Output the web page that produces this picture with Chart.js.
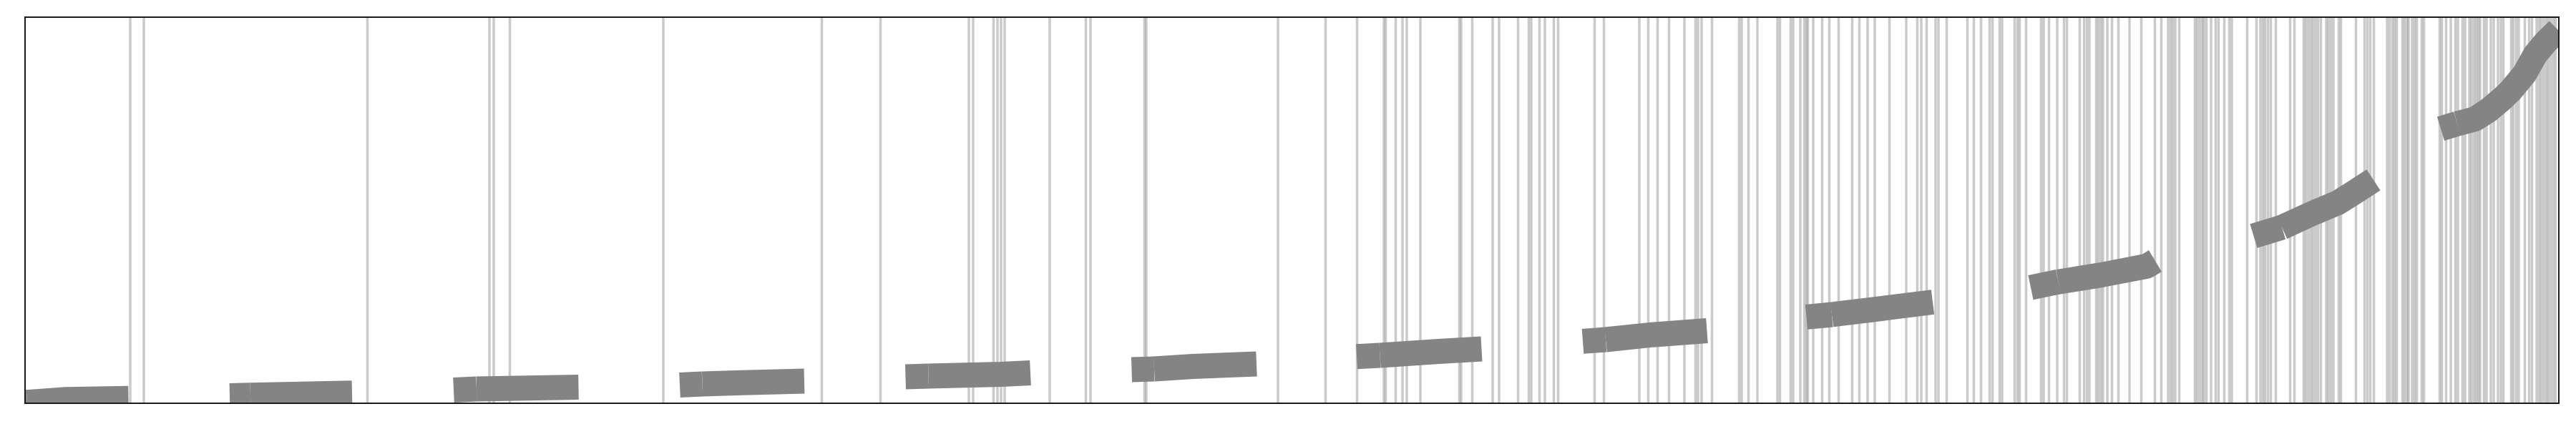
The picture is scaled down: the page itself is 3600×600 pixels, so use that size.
<!DOCTYPE html>
<html><head><meta charset="utf-8">
<script src="https://cdn.jsdelivr.net/npm/chart.js@4.4.0/dist/chart.umd.min.js"></script>
<style>html,body{margin:0;padding:0;background:#fff;} canvas{display:block;}</style>
</head><body>
<canvas id="c" width="3600" height="600"></canvas>
<script>
// Axis limits (arbitrary units)
const X_MIN = 0, X_MAX = 3541;
const Y_MIN = 0, Y_MAX = 540;

// Event times (vertical rug lines)
const eventTimes = [
  147, 166, 478.5, 649, 655, 677.5, 892, 1113.5, 1195.5, 1319, 1325, 1353.5, 1359, 1364, 1369,
  1432, 1482.5, 1489, 1564.5, 1567, 1751,
  1817.5, 1861.5, 1899, 1901.5, 1915.5, 1925, 1931, 1950, 2004.5, 2007, 2022.5,
  2051, 2060, 2086.5, 2101.5, 2105, 2116.5, 2124, 2136.5, 2142.5, 2193.5, 2206.5, 2256, 2268.5,
  2281.5, 2297.5, 2319, 2334.5, 2338, 2343,
  2357.5, 2395.5, 2399, 2408.5, 2421, 2449, 2452.5, 2467.5, 2471, 2481, 2486.5, 2489.5, 2491.5,
  2499, 2511.5, 2521.5, 2534.5, 2553.5, 2563.5, 2575, 2585, 2605.5, 2629, 2644.5,
  2650, 2657.5, 2670, 2674, 2685.5, 2714.5, 2723.5, 2733.5, 2745.5, 2749.5, 2759.5, 2763,
  2780.5, 2784.5, 2787.5, 2796.5, 2817.5, 2821, 2828.5, 2840, 2849.5, 2853.5, 2871.5, 2877.5,
  2881.5, 2885, 2894.5, 2897.5, 2901, 2904, 2910, 2916.5, 2925.5, 2941,
  2957.5, 2976.5, 2985.5, 2995, 2998.5, 3001.5, 3005, 3010.5, 3032.5, 3035.5, 3039, 3042.5,
  3045, 3048.5, 3055, 3061.5, 3065.5, 3073.5, 3080.5, 3084, 3105.5, 3118.5, 3124, 3127.5,
  3130.5, 3134.5, 3138.5, 3145.5, 3165.5, 3171.5, 3184.5, 3187.5, 3191, 3194.5, 3197.5, 3201,
  3204.5, 3208.5, 3216, 3219, 3222.5, 3226, 3233.5, 3236.5,
  3257.5, 3269.5, 3273.5, 3277.5, 3282.5, 3301, 3304.5, 3308.5, 3311.5, 3314.5, 3322.5, 3325.5,
  3329, 3331, 3336, 3339.5, 3342.5, 3349.5, 3352.5, 3374.5, 3377.5, 3383.5, 3390, 3396.5, 3400,
  3406.5, 3410, 3416, 3419, 3422.5, 3425.5, 3428.5, 3431, 3436.5, 3440, 3446, 3450, 3456, 3460,
  3463.5, 3474.5, 3477.5, 3481.5, 3485, 3493.5, 3499.5, 3503.5, 3510, 3513.5, 3516.5, 3520,
  3523.5, 3526.5, 3530, 3533.5, 3536.5
];

// Trend groups: first two points = lead piece, the rest continue from point 2
const g01x = [-29, 3, 57, 144.5],            g01y = [0, 1.3, 5.2, 6.7];
const g02x = [286, 315, 457],                g02y = [10.5, 11.2, 14.2];
const g03x = [599, 631, 773.5],              g03y = [18.5, 20, 22.5];
const g04x = [915, 946.5, 993.5, 1089],      g04y = [25.5, 27, 28.5, 31];
const g05x = [1230.5, 1262.5, 1364, 1405],   g05y = [37, 38, 40.4, 42.4];
const g06x = [1546.5, 1578, 1632, 1721],     g06y = [47, 48, 51.5, 55];
const g07x = [1861, 1893.5, 1975.5, 2035.5], g07y = [65.3, 67, 72.5, 76];
const g08x = [2177, 2209, 2274, 2350.5],     g08y = [86.6, 89, 95.8, 101.5];
const g09x = [2489.5, 2525, 2533.5, 2579.5, 2614, 2666], g09y = [120.6, 124, 125.2, 130.6, 135, 141.5];
const g10x = [2803, 2841.5, 2901, 2965, 2977],           g10y = [161.8, 169.8, 179.4, 191.8, 199];
const g11x = [3114.5, 3154, 3195, 3233, 3256, 3282],     g11y = [234, 246, 264.8, 280.9, 295.5, 312.4];
const g12x = [3376, 3399, 3424, 3443, 3462, 3474, 3493, 3508, 3523, 3540],
      g12y = [384, 391, 397.6, 410, 426, 437.6, 460.6, 487.5, 505.4, 522];

const groups = [[g01x,g01y],[g02x,g02y],[g03x,g03y],[g04x,g04y],[g05x,g05y],[g06x,g06y],
                [g07x,g07y],[g08x,g08y],[g09x,g09y],[g10x,g10y],[g11x,g11y],[g12x,g12y]];

const leadData = [], mainData = [];
groups.forEach(([gx, gy]) => {
  leadData.push({x: gx[0], y: gy[0]}, {x: gx[1], y: gy[1]}, {x: gx[1], y: null});
  for (let j = 1; j < gx.length; j++) mainData.push({x: gx[j], y: gy[j]});
  mainData.push({x: gx[gx.length - 1], y: null});
});
const eventData = eventTimes.map(t => ({x: t, y: [Y_MIN, Y_MAX]}));

const frame = {
  id: 'frame',
  afterDatasetsDraw(chart) {
    const {ctx, chartArea: a} = chart;
    ctx.save();
    ctx.strokeStyle = '#1a1a1a';
    ctx.lineWidth = 2;
    ctx.strokeRect(a.left, a.top, a.right - a.left, a.bottom - a.top);
    ctx.restore();
  }
};

const lineStyle = {
  borderColor: '#848484', backgroundColor: '#848484', borderWidth: 35,
  pointRadius: 0, borderCapStyle: 'butt', borderJoinStyle: 'round',
  fill: false, tension: 0, spanGaps: false, clip: 0
};

new Chart(document.getElementById('c'), {
  type: 'line',
  data: {
    datasets: [
      {type: 'bar', data: eventData, backgroundColor: 'rgba(128,128,128,0.42)', borderWidth: 0,
       barThickness: 3.5, inflateAmount: 0, grouped: false, order: 3},
      Object.assign({data: leadData, order: 2}, lineStyle),
      Object.assign({data: mainData, order: 1}, lineStyle)
    ]
  },
  options: {
    responsive: false,
    animation: false,
    events: [],
    layout: {padding: {left: 35, right: 24, top: 24, bottom: 36}},
    plugins: {legend: {display: false}, tooltip: {enabled: false}},
    scales: {
      x: {type: 'linear', min: X_MIN, max: X_MAX, display: false, offset: false},
      y: {type: 'linear', min: Y_MIN, max: Y_MAX, display: false}
    }
  },
  plugins: [frame]
});
</script>
</body></html>
